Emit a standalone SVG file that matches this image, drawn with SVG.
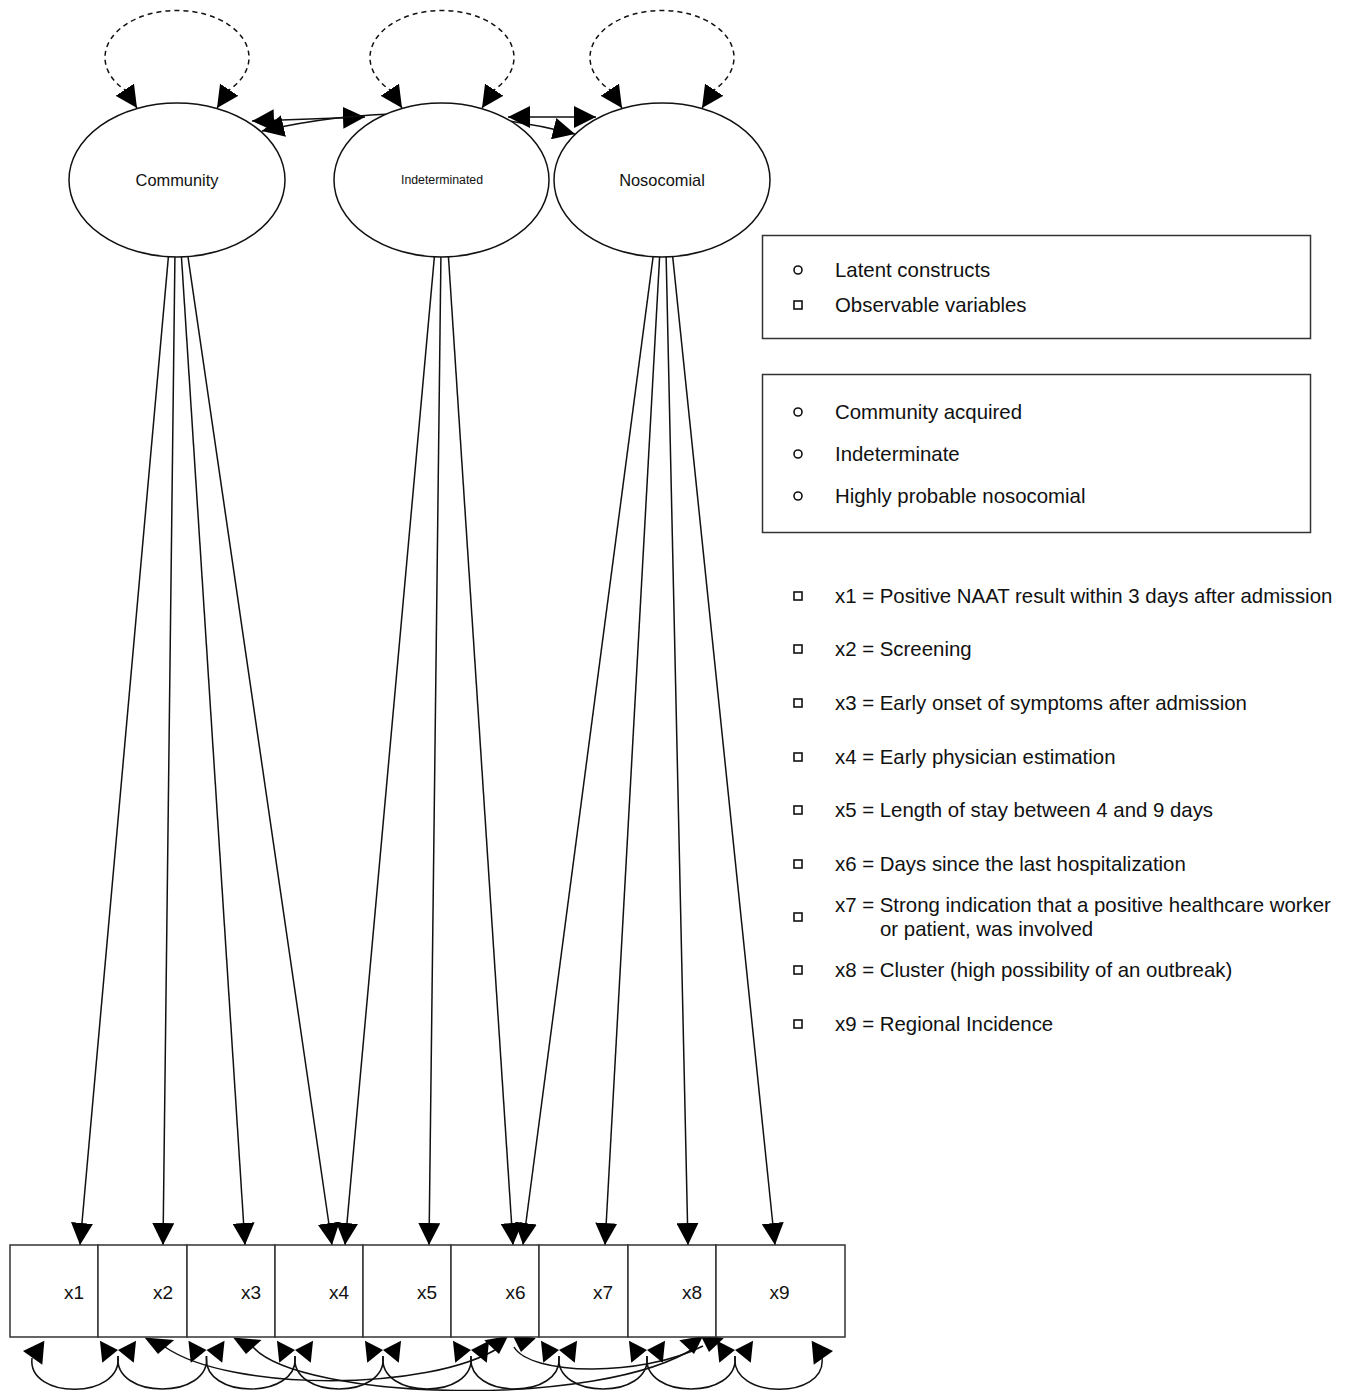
<svg xmlns="http://www.w3.org/2000/svg" width="1350" height="1391" viewBox="0 0 1350 1391">
<style>
text { font-family: "Liberation Sans", Arial, Helvetica, sans-serif; fill: #111; }
.edge { fill: none; stroke: #111; stroke-width: 1.5; }
.dash { stroke-dasharray: 5 4; }
.node { fill: #fff; stroke: #111; stroke-width: 1.5; }
.box { fill: #fff; stroke: #333; stroke-width: 1.5; }
.lbl { font-size: 19px; text-anchor: middle; }
.lat { font-size: 16.4px; text-anchor: middle; }
.leg { font-size: 20.4px; }
.bul { fill: none; stroke: #111; stroke-width: 1.6; }
.legbox { fill: #fff; stroke: #333; stroke-width: 1.5; }
.ah { fill: #000; }
</style>
<defs>
<marker id="arr" viewBox="0 0 22 22" refX="22" refY="11" markerWidth="22" markerHeight="22" markerUnits="userSpaceOnUse" orient="auto-start-reverse"><path d="M0,0 L22,11 L0,22 z" fill="#000"/></marker>
<path id="tri" d="M0,0 L-17,-11 L-17,11 z"/>
</defs>
<rect width="1350" height="1391" fill="#fff"/>

<g id="connectors">
  <!-- latent variances (dashed self loops) -->
  <path class="edge dash" d="M137,108 L125,90 A72 47 0 1 1 229,90 L217,108" marker-start="url(#arr)" marker-end="url(#arr)"/>
  <path class="edge dash" d="M402,108 L390,90 A72 47 0 1 1 494,90 L482,108" marker-start="url(#arr)" marker-end="url(#arr)"/>
  <path class="edge dash" d="M622,108 L610,90 A72 47 0 1 1 714,90 L702,108" marker-start="url(#arr)" marker-end="url(#arr)"/>
  <!-- latent covariances -->
  <path class="edge" d="M252,121 L365,117" marker-start="url(#arr)" marker-end="url(#arr)"/>
  <path class="edge" d="M262,131 Q418,95 575,134" marker-start="url(#arr)" marker-end="url(#arr)"/>
  <path class="edge" d="M508,117 L596,117" marker-start="url(#arr)" marker-end="url(#arr)"/>
  <!-- loadings -->
  <path class="edge" d="M169,250 L80,1245" marker-end="url(#arr)"/>
  <path class="edge" d="M175,250 L163,1245" marker-end="url(#arr)"/>
  <path class="edge" d="M181,250 L245,1245" marker-end="url(#arr)"/>
  <path class="edge" d="M187,250 L332,1245" marker-end="url(#arr)"/>
  <path class="edge" d="M435,250 L345,1245" marker-end="url(#arr)"/>
  <path class="edge" d="M441,250 L429,1245" marker-end="url(#arr)"/>
  <path class="edge" d="M448,250 L513,1245" marker-end="url(#arr)"/>
  <path class="edge" d="M654,250 L523,1245" marker-end="url(#arr)"/>
  <path class="edge" d="M660,250 L605,1245" marker-end="url(#arr)"/>
  <path class="edge" d="M666,250 L688,1245" marker-end="url(#arr)"/>
  <path class="edge" d="M672,250 L775,1245" marker-end="url(#arr)"/>
  <!-- residual variances -->
  <path class="edge" d="M32,1358 C27,1400 123,1400 118,1356"/>
  <path class="edge" d="M118,1356 C113,1400 211.5,1400 206.5,1356"/>
  <path class="edge" d="M206.5,1356 C201.5,1400 300,1400 295,1356"/>
  <path class="edge" d="M295,1356 C290,1400 388,1400 383,1356"/>
  <path class="edge" d="M383,1356 C378,1400 476,1400 471,1356"/>
  <path class="edge" d="M471,1356 C466,1400 564,1400 559,1356"/>
  <path class="edge" d="M559,1356 C554,1400 652,1400 647,1356"/>
  <path class="edge" d="M647,1356 C642,1400 740,1400 735,1356"/>
  <path class="edge" d="M735,1356 C730,1400 827,1400 822,1358"/>
  <!-- residual covariances -->
  <path class="edge" d="M165,1347 C230,1392 430,1392 500,1347"/>
  <path class="edge" d="M253,1347 C300,1400 600,1410 696,1347"/>
  <path class="edge" d="M514,1347 C530,1375 640,1378 703,1346"/>
  <!-- arrowheads of residual arcs -->
  <g class="ah">
    <use href="#tri" transform="translate(23,1351) rotate(185) scale(1.2,1.1)"/>
    <use href="#tri" transform="translate(833,1351) rotate(-5) scale(1.2,1.1)"/>
    <use href="#tri" transform="translate(118,1350) rotate(-6)"/>
    <use href="#tri" transform="translate(118,1350) rotate(186)"/>
    <use href="#tri" transform="translate(206.5,1350) rotate(-6)"/>
    <use href="#tri" transform="translate(206.5,1350) rotate(186)"/>
    <use href="#tri" transform="translate(295,1350) rotate(-6)"/>
    <use href="#tri" transform="translate(295,1350) rotate(186)"/>
    <use href="#tri" transform="translate(383,1350) rotate(-6)"/>
    <use href="#tri" transform="translate(383,1350) rotate(186)"/>
    <use href="#tri" transform="translate(471,1350) rotate(-6)"/>
    <use href="#tri" transform="translate(471,1350) rotate(186)"/>
    <use href="#tri" transform="translate(559,1350) rotate(-6)"/>
    <use href="#tri" transform="translate(559,1350) rotate(186)"/>
    <use href="#tri" transform="translate(647,1350) rotate(-6)"/>
    <use href="#tri" transform="translate(647,1350) rotate(186)"/>
    <use href="#tri" transform="translate(735,1350) rotate(-6)"/>
    <use href="#tri" transform="translate(735,1350) rotate(186)"/>
    <use href="#tri" transform="translate(158,1354) rotate(95) scale(0.9,1.35)"/>
    <use href="#tri" transform="translate(246,1354) rotate(95) scale(0.9,1.3)"/>
    <use href="#tri" transform="translate(499,1354) rotate(80) scale(0.95,1.1)"/>
    <use href="#tri" transform="translate(521,1352) rotate(100) scale(0.95,1.1)"/>
    <use href="#tri" transform="translate(694,1354) rotate(80) scale(0.95,1.1)"/>
    <use href="#tri" transform="translate(709,1352) rotate(100) scale(0.95,1.1)"/>
  </g>
</g>

<g id="community">
  <ellipse class="node" cx="177" cy="180" rx="108" ry="77"/>
  <text class="lat" x="177" y="186">Community</text>
</g>
<g id="indeterminated">
  <ellipse class="node" cx="441.5" cy="180" rx="107.5" ry="77"/>
  <text class="lat" x="442" y="184" style="font-size:12.3px">Indeterminated</text>
</g>
<g id="nosocomial">
  <ellipse class="node" cx="662" cy="180" rx="108" ry="77"/>
  <text class="lat" x="662" y="186">Nosocomial</text>
</g>

<g id="x1"><rect class="box" x="10" y="1245" width="88" height="92"/><text class="lbl" x="74" y="1299">x1</text></g>
<g id="x2"><rect class="box" x="98" y="1245" width="89" height="92"/><text class="lbl" x="163" y="1299">x2</text></g>
<g id="x3"><rect class="box" x="187" y="1245" width="88" height="92"/><text class="lbl" x="251" y="1299">x3</text></g>
<g id="x4"><rect class="box" x="275" y="1245" width="88" height="92"/><text class="lbl" x="339" y="1299">x4</text></g>
<g id="x5"><rect class="box" x="363" y="1245" width="88" height="92"/><text class="lbl" x="427" y="1299">x5</text></g>
<g id="x6"><rect class="box" x="451" y="1245" width="88" height="92"/><text class="lbl" x="515.5" y="1299">x6</text></g>
<g id="x7"><rect class="box" x="539" y="1245" width="89" height="92"/><text class="lbl" x="603" y="1299">x7</text></g>
<g id="x8"><rect class="box" x="628" y="1245" width="88" height="92"/><text class="lbl" x="692" y="1299">x8</text></g>
<g id="x9"><rect class="box" x="716" y="1245" width="129" height="92"/><text class="lbl" x="779.5" y="1299">x9</text></g>

<g id="legend-shapes">
  <rect class="legbox" x="762.5" y="235.5" width="548" height="103"/>
  <circle class="bul" cx="798" cy="270" r="4"/>
  <text class="leg" x="835" y="277">Latent constructs</text>
  <rect class="bul" x="794" y="301" width="8" height="8"/>
  <text class="leg" x="835" y="312">Observable variables</text>
</g>
<g id="legend-latent">
  <rect class="legbox" x="762.5" y="374.5" width="548" height="158"/>
  <circle class="bul" cx="798" cy="412" r="4"/>
  <text class="leg" x="835" y="419">Community acquired</text>
  <circle class="bul" cx="798" cy="454" r="4"/>
  <text class="leg" x="835" y="461">Indeterminate</text>
  <circle class="bul" cx="798" cy="496" r="4"/>
  <text class="leg" x="835" y="503">Highly probable nosocomial</text>
</g>
<g id="legend-observed">
  <rect class="bul" x="794" y="592" width="8" height="8"/>
  <text class="leg" x="835" y="603">x1 = Positive NAAT result within 3 days after admission</text>
  <rect class="bul" x="794" y="645" width="8" height="8"/>
  <text class="leg" x="835" y="656">x2 = Screening</text>
  <rect class="bul" x="794" y="699" width="8" height="8"/>
  <text class="leg" x="835" y="710">x3 = Early onset of symptoms after admission</text>
  <rect class="bul" x="794" y="753" width="8" height="8"/>
  <text class="leg" x="835" y="764">x4 = Early physician estimation</text>
  <rect class="bul" x="794" y="806" width="8" height="8"/>
  <text class="leg" x="835" y="817">x5 = Length of stay between 4 and 9 days</text>
  <rect class="bul" x="794" y="860" width="8" height="8"/>
  <text class="leg" x="835" y="871">x6 = Days since the last hospitalization</text>
  <rect class="bul" x="794" y="913" width="8" height="8"/>
  <text class="leg" x="835" y="912">x7 = Strong indication that a positive healthcare worker</text>
  <text class="leg" x="880" y="936">or patient, was involved</text>
  <rect class="bul" x="794" y="966" width="8" height="8"/>
  <text class="leg" x="835" y="977">x8 = Cluster (high possibility of an outbreak)</text>
  <rect class="bul" x="794" y="1020" width="8" height="8"/>
  <text class="leg" x="835" y="1031">x9 = Regional Incidence</text>
</g>
</svg>
